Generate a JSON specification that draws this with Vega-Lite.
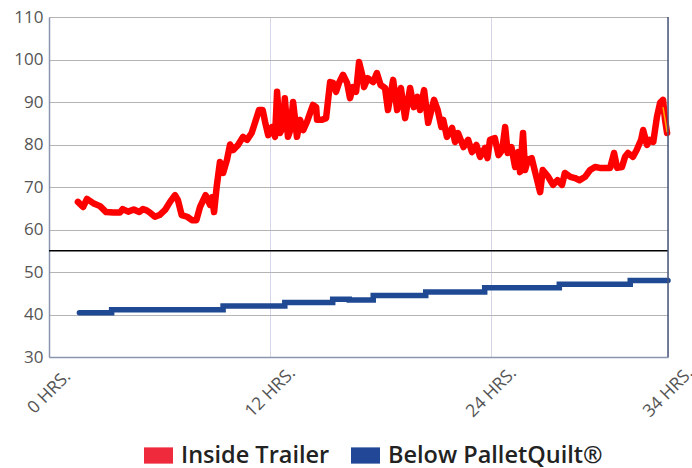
{
  "$schema": "https://vega.github.io/schema/vega-lite/v6.json",
  "width": 619,
  "height": 340,
  "autosize": {"type": "none"},
  "padding": {"left": 49, "top": 17, "right": 24, "bottom": 111},
  "config": {"view": {"stroke": null}, "font": "Open Sans"},
  "datasets": {
    "inside": [
      {"hours": 1.57, "temp": 66.5}, {"hours": 1.85, "temp": 65.3}, {"hours": 2.06, "temp": 67.2}, {"hours": 2.4, "temp": 66.2},
      {"hours": 2.77, "temp": 65.5}, {"hours": 3.1, "temp": 64.1}, {"hours": 3.5, "temp": 64.0}, {"hours": 3.85, "temp": 64.0},
      {"hours": 4.0, "temp": 64.8}, {"hours": 4.3, "temp": 64.2}, {"hours": 4.6, "temp": 64.7}, {"hours": 4.9, "temp": 64.1},
      {"hours": 5.1, "temp": 64.8}, {"hours": 5.3, "temp": 64.5}, {"hours": 5.5, "temp": 63.9}, {"hours": 5.75, "temp": 63.0},
      {"hours": 6.0, "temp": 63.4}, {"hours": 6.3, "temp": 64.6}, {"hours": 6.57, "temp": 66.5}, {"hours": 6.84, "temp": 68.1},
      {"hours": 7.0, "temp": 66.9}, {"hours": 7.2, "temp": 63.4}, {"hours": 7.5, "temp": 63.0}, {"hours": 7.76, "temp": 62.2},
      {"hours": 8.0, "temp": 62.2}, {"hours": 8.2, "temp": 65.3}, {"hours": 8.5, "temp": 68.1}, {"hours": 8.74, "temp": 65.8},
      {"hours": 8.85, "temp": 67.6}, {"hours": 8.96, "temp": 64.1}, {"hours": 9.1, "temp": 70.0}, {"hours": 9.28, "temp": 75.9},
      {"hours": 9.45, "temp": 73.3}, {"hours": 9.66, "temp": 76.4}, {"hours": 9.83, "temp": 80.0}, {"hours": 10.0, "temp": 78.7},
      {"hours": 10.26, "temp": 79.9}, {"hours": 10.53, "temp": 81.8}, {"hours": 10.75, "temp": 81.1}, {"hours": 11.0, "temp": 82.7},
      {"hours": 11.18, "temp": 85.1}, {"hours": 11.4, "temp": 88.1}, {"hours": 11.6, "temp": 88.1}, {"hours": 11.73, "temp": 85.3},
      {"hours": 11.9, "temp": 82.2}, {"hours": 12.1, "temp": 84.1}, {"hours": 12.27, "temp": 81.8}, {"hours": 12.38, "temp": 92.4},
      {"hours": 12.54, "temp": 82.7}, {"hours": 12.7, "temp": 84.1}, {"hours": 12.8, "temp": 90.9}, {"hours": 12.97, "temp": 81.8},
      {"hours": 13.1, "temp": 83.4}, {"hours": 13.25, "temp": 90.0}, {"hours": 13.35, "temp": 86.2}, {"hours": 13.46, "temp": 81.8},
      {"hours": 13.63, "temp": 85.8}, {"hours": 13.8, "temp": 83.4}, {"hours": 14.0, "temp": 85.3}, {"hours": 14.17, "temp": 87.4},
      {"hours": 14.33, "temp": 89.3}, {"hours": 14.5, "temp": 88.8}, {"hours": 14.55, "temp": 85.8}, {"hours": 14.82, "temp": 85.8},
      {"hours": 15.04, "temp": 86.2}, {"hours": 15.15, "temp": 90.5}, {"hours": 15.26, "temp": 94.7}, {"hours": 15.42, "temp": 94.5},
      {"hours": 15.58, "temp": 92.4}, {"hours": 15.74, "temp": 94.5}, {"hours": 15.96, "temp": 96.4}, {"hours": 16.18, "temp": 94.5},
      {"hours": 16.34, "temp": 90.9}, {"hours": 16.5, "temp": 93.5}, {"hours": 16.67, "temp": 92.4}, {"hours": 16.83, "temp": 99.4},
      {"hours": 17.0, "temp": 96.4}, {"hours": 17.1, "temp": 93.5}, {"hours": 17.3, "temp": 95.6}, {"hours": 17.6, "temp": 94.7},
      {"hours": 17.8, "temp": 96.8}, {"hours": 18.0, "temp": 94.0}, {"hours": 18.24, "temp": 93.3}, {"hours": 18.4, "temp": 88.1},
      {"hours": 18.68, "temp": 95.2}, {"hours": 18.9, "temp": 88.1}, {"hours": 19.1, "temp": 93.3}, {"hours": 19.33, "temp": 86.2},
      {"hours": 19.6, "temp": 93.3}, {"hours": 19.8, "temp": 88.8}, {"hours": 20.0, "temp": 91.2}, {"hours": 20.14, "temp": 88.1},
      {"hours": 20.36, "temp": 92.8}, {"hours": 20.58, "temp": 85.1}, {"hours": 20.9, "temp": 90.5}, {"hours": 21.1, "temp": 88.1},
      {"hours": 21.3, "temp": 84.1}, {"hours": 21.4, "temp": 85.8}, {"hours": 21.6, "temp": 81.8}, {"hours": 21.88, "temp": 83.9},
      {"hours": 22.04, "temp": 80.6}, {"hours": 22.2, "temp": 82.7}, {"hours": 22.5, "temp": 79.4}, {"hours": 22.75, "temp": 81.1},
      {"hours": 22.96, "temp": 78.2}, {"hours": 23.2, "temp": 79.9}, {"hours": 23.4, "temp": 77.1}, {"hours": 23.67, "temp": 79.2},
      {"hours": 23.8, "temp": 76.8}, {"hours": 23.94, "temp": 81.1}, {"hours": 24.2, "temp": 81.5}, {"hours": 24.4, "temp": 77.5},
      {"hours": 24.6, "temp": 78.7}, {"hours": 24.76, "temp": 84.1}, {"hours": 24.9, "temp": 78.0}, {"hours": 25.1, "temp": 79.4},
      {"hours": 25.3, "temp": 74.7}, {"hours": 25.46, "temp": 78.2}, {"hours": 25.57, "temp": 73.5}, {"hours": 25.73, "temp": 82.7},
      {"hours": 25.84, "temp": 74.0}, {"hours": 26.0, "temp": 76.4}, {"hours": 26.2, "temp": 76.8}, {"hours": 26.4, "temp": 73.3},
      {"hours": 26.66, "temp": 68.8}, {"hours": 26.8, "temp": 74.0}, {"hours": 27.1, "temp": 72.4}, {"hours": 27.36, "temp": 70.5},
      {"hours": 27.6, "temp": 71.6}, {"hours": 27.85, "temp": 70.5}, {"hours": 28.0, "temp": 73.3}, {"hours": 28.3, "temp": 72.4},
      {"hours": 28.55, "temp": 72.1}, {"hours": 28.8, "temp": 71.6}, {"hours": 29.1, "temp": 72.4}, {"hours": 29.37, "temp": 74.0},
      {"hours": 29.64, "temp": 74.7}, {"hours": 29.9, "temp": 74.5}, {"hours": 30.2, "temp": 74.5}, {"hours": 30.46, "temp": 74.5},
      {"hours": 30.67, "temp": 78.0}, {"hours": 30.84, "temp": 74.5}, {"hours": 31.1, "temp": 74.7}, {"hours": 31.27, "temp": 77.1},
      {"hours": 31.43, "temp": 78.0}, {"hours": 31.7, "temp": 77.1}, {"hours": 31.9, "temp": 78.7}, {"hours": 32.14, "temp": 81.1},
      {"hours": 32.25, "temp": 83.4}, {"hours": 32.46, "temp": 79.9}, {"hours": 32.6, "temp": 81.1}, {"hours": 32.8, "temp": 80.6},
      {"hours": 33.0, "temp": 86.5}, {"hours": 33.17, "temp": 89.8}, {"hours": 33.33, "temp": 90.5}, {"hours": 33.44, "temp": 85.8},
      {"hours": 33.55, "temp": 82.7}
    ],
    "tail": [
      {"hours": 33.33, "temp": 88.8}, {"hours": 33.55, "temp": 82.9}
    ],
    "below": [
      {"hours": 1.65, "temp": 40.4}, {"hours": 3.4, "temp": 41.1}, {"hours": 9.45, "temp": 42.0}, {"hours": 12.8, "temp": 42.8},
      {"hours": 15.4, "temp": 43.6}, {"hours": 16.3, "temp": 43.4}, {"hours": 17.6, "temp": 44.5}, {"hours": 20.45, "temp": 45.3},
      {"hours": 23.65, "temp": 46.3}, {"hours": 27.7, "temp": 47.1}, {"hours": 31.55, "temp": 48.0}, {"hours": 33.6, "temp": 48.0}
    ]
  },
  "layer": [
    {
      "data": {"name": "inside"},
      "transform": [{"calculate": "'Inside Trailer'", "as": "series"}],
      "mark": {"type": "line", "strokeWidth": 6.5, "strokeCap": "round", "strokeJoin": "round"},
      "encoding": {
        "x": {
          "field": "hours", "type": "quantitative",
          "scale": {"domain": [0, 33.6], "nice": false, "zero": false},
          "axis": {
            "title": null, "values": [0, 12, 24, 33.6],
            "labelExpr": "datum.value > 33 ? '34 HRS.' : datum.value + ' HRS.'",
            "labelAngle": -45, "labelAlign": "center", "labelBaseline": "middle", "labelPadding": 35, "labelDx": 2,
            "labelFlush": false, "labelOverlap": false, "labelBound": false,
            "ticks": false, "grid": true, "gridColor": "#d6d6ea", "gridWidth": 1,
            "domainColor": "#8a96ae", "domainWidth": 1.5,
            "labelFontSize": 17.5, "labelColor": "#555555", "labelFont": "Open Sans"
          }
        },
        "y": {
          "field": "temp", "type": "quantitative",
          "scale": {"domain": [30, 110], "nice": false, "zero": false},
          "axis": {
            "title": null, "values": [30, 40, 50, 60, 70, 80, 90, 100, 110],
            "ticks": false, "grid": true, "gridColor": "#b4b4b4", "gridWidth": 1.2,
            "domainColor": "#8a96ae", "domainWidth": 1.5, "labelPadding": 6,
            "labelFontSize": 17, "labelColor": "#555555", "labelFont": "Open Sans"
          }
        },
        "color": {
          "field": "series", "type": "nominal",
          "scale": {"domain": ["Inside Trailer", "Below PalletQuilt®"], "range": ["#FF0000", "#1F4A93"]},
          "legend": {
            "title": null, "orient": "none", "legendX": 95, "legendY": 424, "direction": "horizontal",
            "symbolType": "M-1,-0.56H1V0.56H-1Z", "symbolSize": 841, "symbolStrokeWidth": 0,
            "labelFontSize": 23.5, "labelFontWeight": 600, "labelColor": "#222222", "labelFont": "Open Sans",
            "columnPadding": 21, "labelOffset": 8, "labelLimit": 0,
            "encode": {"symbols": {"update": {"fill": {"signal": "datum.value === 'Inside Trailer' ? '#EE2A3C' : '#214796'"}, "fillOpacity": {"value": 1}}}}
          }
        }
      }
    },
    {
      "data": {"name": "below"},
      "transform": [{"calculate": "'Below PalletQuilt®'", "as": "series"}],
      "mark": {"type": "line", "strokeWidth": 5.5, "strokeCap": "round", "interpolate": "step-after"},
      "encoding": {
        "x": {"field": "hours", "type": "quantitative"},
        "y": {"field": "temp", "type": "quantitative"},
        "color": {"field": "series", "type": "nominal"}
      }
    },
    {
      "data": {"name": "tail"},
      "mark": {"type": "line", "strokeWidth": 1.5, "color": "#FFA500"},
      "encoding": {
        "x": {"field": "hours", "type": "quantitative"},
        "y": {"field": "temp", "type": "quantitative"}
      }
    },
    {
      "data": {"values": [{"t": 55}]},
      "mark": {"type": "rule", "color": "#000000", "strokeWidth": 1.5},
      "encoding": {"y": {"field": "t", "type": "quantitative"}}
    },
    {
      "data": {"values": [{"h": 33.6}]},
      "mark": {"type": "rule", "color": "#4a5678", "strokeWidth": 1.5},
      "encoding": {"x": {"field": "h", "type": "quantitative"}}
    }
  ]
}
